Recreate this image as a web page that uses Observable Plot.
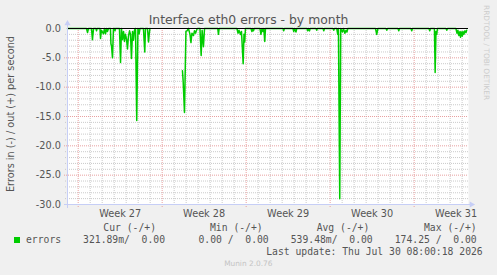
<!DOCTYPE html>
<html><head><meta charset="utf-8">
<script src="https://cdn.jsdelivr.net/npm/d3@7"></script>
<script src="https://cdn.jsdelivr.net/npm/@observablehq/plot@0.6"></script>
<style>
html,body{margin:0;padding:0;background:#F0F0F0;}
#wrap{position:relative;width:497px;height:275px;overflow:hidden;background:#F0F0F0;}
#wrap svg{position:absolute;left:0;top:0;}
</style></head><body><div id="wrap"></div>
<script>
// ---- texts ----
const title = "Interface eth0 errors - by month";
const yLabel = "Errors in (-) / out (+) per second";
const weekLabels = ["Week 27", "Week 28", "Week 29", "Week 30", "Week 31"];
const weekMid = [3.5, 10.5, 17.5, 24.5, 31.5];      // days since Mon 29 Jun 2026
const weekStart = [0, 7, 14, 21, 28];
const yTicks = [0, -5, -10, -15, -20, -25, -30];
const seriesName = "errors";
const legendHead = ["Cur (-/+)", "Min (-/+)", "Avg (-/+)", "Max (-/+)"];
const legendVals = ["321.89m/  0.00", "0.00 /  0.00", "539.48m/  0.00", "174.25 /  0.00"];
const lastUpdate = "Last update: Thu Jul 30 08:00:18 2026";
const watermark = "Munin 2.0.76";
const sideMark = "RRDTOOL / TOBI OETIKER";

// ---- data: time (days since Mon 29 Jun 2026) and errors in (negative) ----
const dayOffset = [
  -0.89, 0.69, 0.78, 0.86, 1.11, 1.19, 1.28, 1.48, 1.53, 1.57,
  1.82, 1.86, 1.94, 2.11, 2.19, 2.28, 2.36, 2.44, 2.53,
  2.69, 2.73, 2.78, 2.86, 2.94, 3.03, 3.07, 3.11,
  3.44, 3.53, 3.61, 3.69, 3.78, 3.86, 3.94, 4.03, 4.11, 4.19, 4.28, 4.36, 4.44, 4.53, 4.61, 4.69, 4.78,
  4.88, 4.98, 5.08, 5.15, 5.44, 5.55, 5.61, 5.78, 5.86, 5.92, 5.98,
  7.30,
  8.69, 8.75, 8.86, 8.98, 9.07, 9.19, 9.32, 9.40, 9.48, 9.61, 9.69, 9.78, 9.86, 9.94,
  10.15, 10.25, 10.33, 10.44, 10.53,
  11.63, 11.69, 11.75,
  13.23, 13.32, 13.40, 13.53, 13.61, 13.75, 13.82, 13.88, 13.94,
  14.40, 14.48, 14.55, 14.61, 14.67,
  15.15, 15.23, 15.32, 15.40, 15.47, 15.55, 15.61,
  17.07, 17.13, 17.19,
  17.90, 17.97, 18.03, 18.15, 18.22,
  19.07, 19.13, 19.19, 19.28, 19.33,
  19.82, 19.88, 19.93,
  20.40, 20.47, 20.53,
  21.23, 21.30, 21.36,
  21.55, 21.63, 21.69, 21.80, 21.88, 22.03, 22.11, 22.23, 22.32, 22.40, 22.47,
  24.78, 24.88, 24.98,
  25.65, 25.72, 25.78,
  26.65, 26.72, 26.78,
  27.73, 27.80, 27.86,
  29.23, 29.30, 29.36,
  29.69, 29.75, 29.82, 29.88, 29.94,
  30.65, 30.72, 30.78,
  31.48, 31.57, 31.65, 31.73, 31.82, 31.86, 31.94, 32.01, 32.07, 32.15, 32.23, 32.32, 32.38
];
const errorsIn = [
  0, 0, -0.7, 0, 0, -1.9, 0, 0, -0.4, 0,
  0, -1.7, -0.3, -0.9, 0, -0.9, 0, -0.5, 0,
  0, -2.6, -3.0, -5.0, 0, 0, -0.4, 0,
  0, -5.8, 0, -1.9, -0.5, -2.2, -1.0, -1.8, -3.5, -1.3, -0.4, -1.0, -5.1, -0.5, -2.0, -0.3, 0,
  -15.7, 0, -0.9, 0, 0, -4.0, 0, 0, -2.3, -1.0, 0,
  null,
  -7.2, -9.0, -14.3, -0.5, -0.4, 0, -1.0, -2.4, -0.8, -1.2, -0.4, -0.8, -0.3, 0,
  0, -4.6, -0.3, -3.1, 0,
  0, -1.0, 0,
  0, -0.8, -0.3, -1.0, -0.5, -6.0, -1.0, -2.3, 0,
  0, -0.5, 0, -0.4, 0,
  0, -1.0, 0, -0.5, 0, -2.2, 0,
  0, -0.4, 0,
  0, -0.5, 0, -0.6, 0,
  0, -0.4, 0, -0.4, 0,
  0, -0.3, 0,
  0, -0.4, 0,
  0, -0.3, 0,
  0, -1.0, 0, -29.0, 0, -0.6, 0, -0.8, -0.3, -0.6, 0,
  0, -1.0, 0,
  0, -0.3, 0,
  0, -0.4, 0,
  0, -0.4, 0,
  0, -0.4, 0,
  0, -7.5, -0.5, -1.0, 0,
  0, -0.3, 0,
  0, -0.8, -0.3, -1.2, -0.5, -1.5, -0.6, -1.3, -0.5, -1.0, -0.4, -0.7, -0.3
];

// ---- styling ----
const W = 497, H = 275;
const xDomain = [-0.89, 32.53];
const textCol = "#555555";
const axisCol = "#C6CEF6";
const gridCol = "#CACACA";
const mgridCol = "#E8A0A0";
const lineCol = "#00CC00";
const axisFont = 9.72;
const monoFont = 9.72;

const minorDays = d3.range(0, 33).filter(d => d % 7 !== 0);
const minorY = d3.range(-29, 0).filter(v => v % 5 !== 0);
const majorY = [-25, -20, -15, -10, -5];
const idx = d3.range(dayOffset.length);

const chart = Plot.plot({
  width: W, height: H,
  marginLeft: 67, marginRight: 29, marginTop: 28, marginBottom: 71,
  style: {background: "transparent", fontFamily: "DejaVu Sans, sans-serif", fontSize: axisFont + "px", color: textCol, overflow: "visible"},
  x: {domain: xDomain, axis: null},
  y: {domain: [-30, 0], axis: null},
  marks: [
    Plot.frame({fill: "white", stroke: null}),
    Plot.ruleX(minorDays, {stroke: gridCol, strokeDasharray: "1,1", insetBottom: -2}),
    Plot.ruleY(minorY, {stroke: gridCol, strokeDasharray: "1,1", insetLeft: -2}),
    Plot.ruleX(weekStart, {stroke: mgridCol, strokeDasharray: "1,1", insetBottom: -3}),
    Plot.ruleY(majorY, {stroke: mgridCol, strokeDasharray: "1,1", insetLeft: -3}),
    Plot.line(idx, {x: i => dayOffset[i], y: i => errorsIn[i], stroke: lineCol, strokeWidth: 1.5}),
    Plot.ruleY([0], {stroke: "black", strokeWidth: 1}),
    Plot.ruleX([xDomain[0]], {stroke: axisCol, insetTop: -3, insetBottom: -4}),
    Plot.ruleY([-30], {stroke: axisCol, insetLeft: -3, insetRight: -2}),
    Plot.dot([{x: xDomain[0], y: 0}], {x: "x", y: "y", symbol: "triangle", r: 2.3, fill: axisCol, stroke: null, dy: -5}),
    Plot.dot([{x: xDomain[1], y: -30}], {x: "x", y: "y", symbol: "triangle", r: 2.3, fill: axisCol, stroke: null, rotate: 90, dx: 3}),
    Plot.axisX(weekMid, {tickFormat: (d, i) => weekLabels[i], tickSize: 0, tickPadding: 5.5, fontSize: axisFont, label: null}),
    Plot.axisY(yTicks, {tickFormat: d => d.toFixed(1), tickSize: 0, tickPadding: 6.5, fontSize: axisFont, label: null})
  ]
});
const wrap = document.getElementById("wrap");
wrap.appendChild(chart);

// ---- overlay texts (title, unit label, legend) ----
const svg = d3.select(wrap).append("svg").attr("width", W).attr("height", H)
  .style("font-family", "DejaVu Sans, sans-serif");
svg.append("text").attr("x", 248.5).attr("y", 24).attr("text-anchor", "middle")
  .attr("font-size", 12.4).attr("fill", textCol).text(title);
svg.append("text").attr("transform", "translate(14.3,114) rotate(-90)").attr("text-anchor", "middle")
  .attr("font-size", axisFont).attr("fill", textCol).text(yLabel);
svg.append("text").attr("transform", "translate(483.6,5) rotate(90)").attr("text-anchor", "start")
  .attr("font-size", 7.4).attr("fill", "#CCCCCC").text(sideMark);

const mono = "DejaVu Sans Mono, monospace";
const headEnds = [156, 262.7, 369.3, 476.7];
const valEnds = [165, 268.7, 372.7, 476.7];
legendHead.forEach((t, i) => svg.append("text").attr("x", headEnds[i]).attr("y", 230.8)
  .attr("text-anchor", "end").attr("font-family", mono).attr("font-size", monoFont)
  .attr("fill", textCol).style("white-space", "pre").text(t));
legendVals.forEach((t, i) => svg.append("text").attr("x", valEnds[i]).attr("y", 243.3)
  .attr("text-anchor", "end").attr("font-family", mono).attr("font-size", monoFont)
  .attr("fill", textCol).style("white-space", "pre").text(t));
svg.append("rect").attr("x", 14).attr("y", 237).attr("width", 6).attr("height", 6).attr("fill", lineCol);
svg.append("text").attr("x", 26).attr("y", 243.3).attr("font-family", mono).attr("font-size", monoFont)
  .attr("fill", textCol).text(seriesName);
svg.append("text").attr("x", 482.7).attr("y", 255).attr("text-anchor", "end").attr("font-family", mono)
  .attr("font-size", monoFont).attr("fill", textCol).text(lastUpdate);
svg.append("text").attr("x", 248.3).attr("y", 266).attr("text-anchor", "middle")
  .attr("font-size", 7.4).attr("fill", "#C4C4C4").text(watermark);
</script></body></html>
